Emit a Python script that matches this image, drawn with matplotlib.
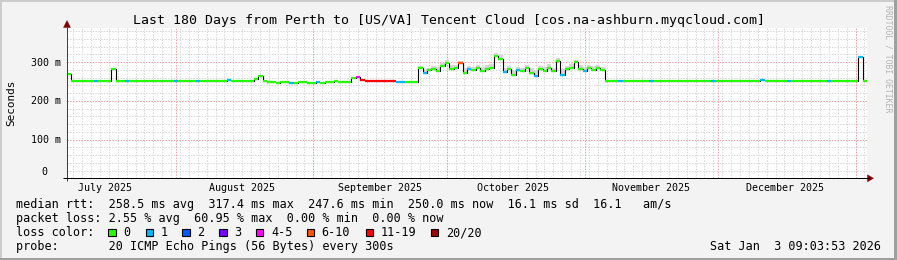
import matplotlib
matplotlib.use("Agg")
import matplotlib.pyplot as plt
from matplotlib.collections import LineCollection
from matplotlib.patches import Rectangle, Polygon
from matplotlib.lines import Line2D
import numpy as np

# ---------------- data ----------------
title = "Last 180 Days from Perth to [US/VA] Tencent Cloud [cos.na-ashburn.myqcloud.com]"

# daily median rtt (ms), day 0 = start of the 180-day window
median_ms = [
    268, 250, 250, 250, 250, 250, 250, 250, 250, 250,
    281, 250, 250, 250, 250, 250, 250, 250, 252, 250,
    250, 250, 250, 250, 250, 250, 250, 250, 250, 250,
    250, 250, 250, 250, 250, 250, 254, 250, 250, 250,
    250, 250, 256, 264, 252, 248, 248, 247, 248, 248,
    247, 247, 248, 248, 247, 247, 248, 247, 248, 248,
    251, 249, 249, 249, 258, 261, 254, 251, 251, 250,
    250, 250, 250, 250, 248, 248, 248, 248, 248, 284,
    272, 279, 283, 277, 290, 298, 282, 286, 297, 272,
    281, 279, 285, 276, 282, 284, 315, 307, 274, 281,
    266, 280, 277, 284, 273, 265, 282, 278, 286, 276,
    304, 267, 281, 285, 300, 283, 278, 285, 280, 284,
    279, 250, 250, 250, 250, 250, 250, 250, 250, 250,
    250, 250, 250, 250, 250, 250, 250, 250, 250, 250,
    250, 250, 250, 250, 250, 250, 250, 250, 250, 250,
    250, 252, 250, 250, 250, 250, 253, 250, 250, 250,
    250, 250, 250, 250, 250, 250, 250, 250, 250, 250,
    250, 250, 250, 250, 250, 250, 250, 250, 314, 250,
]

# days whose loss is not 0 (index into loss legend)
loss_days = [6, 13, 24, 29, 36, 50, 56, 65, 66, 67, 68, 69, 70, 71, 72, 73,
             74, 75, 80, 88, 90, 98, 101, 105, 111, 116, 124, 131, 145, 156,
             162, 171, 178]
loss_levels = [1, 1, 1, 1, 1, 1, 1, 4, 6, 6, 6, 6, 6, 6, 6, 6,
               1, 1, 1, 5, 1, 1, 1, 1, 1, 1, 1, 1, 1, 1,
               1, 1, 1]

# smoke (upper spread) during the noisy period
smoke_start_day = 79
smoke_top_ms = [290, 281, 286, 290, 287, 298, 305, 292, 293, 303, 285, 289,
                288, 293, 287, 292, 295, 324, 318, 286, 290, 279, 288, 286,
                292, 284, 280, 290, 287, 294, 286, 310, 282, 290, 294, 306,
                292, 287, 293, 289, 292, 288]

loss_labels = ["0", "1", "2", "3", "4-5", "6-10", "11-19", "20/20"]
loss_colors = ["#26ff00", "#00b8ff", "#0059ff", "#7e00ff", "#ff00ff",
               "#ff5500", "#ff0000", "#a10000"]

month_labels = ["July 2025", "August 2025", "September 2025", "October 2025",
                "November 2025", "December 2025"]
month_start_days = [-6.54, 24.46, 55.46, 85.46, 116.46, 146.46, 177.46]

y_major = [100, 200, 300]
y_labels = ["100 m", "200 m", "300 m"]

line1 = "median rtt:  258.5 ms avg  317.4 ms max  247.6 ms min  250.0 ms now  16.1 ms sd  16.1   am/s"
line2 = "packet loss: 2.55 % avg  60.95 % max  0.00 % min  0.00 % now"
line4 = "probe:       20 ICMP Echo Pings (56 Bytes) every 300s"
date_text = "Sat Jan  3 09:03:53 2026"

# ---------------- figure ----------------
W, H = 897, 260
MONO = "DejaVu Sans Mono"
fig = plt.figure(figsize=(W / 100, H / 100), dpi=100)
fig.patch.set_facecolor("#f3f3f3")

def fx(x):
    return x / W

def fy(y):
    return 1 - y / H

L, R, T, B = 67, 867, 28, 178.3
YMAX = 388
ax = fig.add_axes([fx(L), fy(B), (R - L) / W, (B - T) / H])
ax.set_xlim(0, 180)
ax.set_ylim(0, YMAX)
for s in ax.spines.values():
    s.set_visible(False)
ax.set_xticks([])
ax.set_yticks([])
ax.set_facecolor("white")

minor_c = "#d6d6d6"
major_c = "#f0a0a0"
dot = (0, (1.4, 1.4))
# minor grid
d = 1.42
while d < 180:
    ax.axvline(d, color=minor_c, lw=0.72, ls=dot, zorder=1)
    d += 2
for v in range(20, YMAX, 20):
    if v % 100:
        ax.axhline(v, color=minor_c, lw=0.72, ls=dot, zorder=1)
# major grid
for v in y_major:
    ax.axhline(v, color=major_c, lw=0.72, ls=dot, zorder=1.5)
for m in month_start_days:
    if 0 < m < 180:
        ax.axvline(m, color=major_c, lw=0.72, ls=dot, zorder=1.5)

# smoke
n_sm = len(smoke_top_ms)
sx = np.arange(smoke_start_day, smoke_start_day + n_sm + 1)
s_lo = list(median_ms[smoke_start_day:smoke_start_day + n_sm])
ax.fill_between(sx, s_lo + [s_lo[-1]], smoke_top_ms + [smoke_top_ms[-1]],
                step="post", color="#d6d6d6", lw=0, zorder=2)

# median: black step underneath, coloured segments on top
n = len(median_ms)
xs = np.arange(n + 1)
ax.step(xs, median_ms + [median_ms[-1]], where="post", color="black",
        lw=0.8, zorder=3)
lvl = [0] * n
for dd, lv in zip(loss_days, loss_levels):
    lvl[dd] = lv
segs = [[(i, v), (i + 1, v)] for i, v in enumerate(median_ms)]
cols = [loss_colors[l] for l in lvl]
ax.add_collection(LineCollection(segs, colors=cols, linewidths=1.6,
                                 capstyle="butt", zorder=4))

# axes lines and arrows (figure pixel coordinates)
def fline(x0, y0, x1, y1, c, lw=0.72):
    fig.add_artist(Line2D([fx(x0), fx(x1)], [fy(y0), fy(y1)], color=c, lw=lw,
                          transform=fig.transFigure, solid_capstyle="butt"))

def fpoly(pts, c):
    fig.add_artist(Polygon([(fx(a), fy(b)) for a, b in pts], closed=True,
                           facecolor=c, edgecolor=c, lw=0.3,
                           transform=fig.transFigure))

fline(L, B + 2.5, L, T - 1, "#404040")
fline(L - 4, B, R + 2, B, "black")
fpoly([(L, 20.5), (L - 3.5, 27.5), (L + 3.5, 27.5)], "#800000")
fpoly([(873.5, B), (867.5, B - 3.5), (867.5, B + 3.5)], "#800000")

# y labels
tick_fs = 7.2
fig.text(fx(47.5), fy(B - 3.6), "0", family=MONO, fontsize=tick_fs,
         ha="right", va="baseline")
for v, lab in zip(y_major, y_labels):
    ypix = B - v * (B - T) / YMAX
    fig.text(fx(60.5), fy(ypix + 3.6), lab, family=MONO, fontsize=tick_fs,
             ha="right", va="baseline")

# month labels (centred mid-month)
for m, lab in zip(month_start_days, month_labels):
    xpix = L + (m + 15) * (R - L) / 180
    fig.text(fx(xpix), fy(190.8), lab, family=MONO, fontsize=tick_fs,
             ha="center", va="baseline")

# title & side labels
fig.text(fx(448.5), fy(24.2), title, family=MONO, fontsize=9.5,
         ha="center", va="baseline")
fig.text(fx(11), fy(103), "Seconds", family=MONO, fontsize=7.9,
         rotation=90, ha="center", va="center")
fig.text(fx(887.5), fy(5), "RRDTOOL / TOBI OETIKER", family=MONO,
         fontsize=5.9, rotation=270, ha="center", va="top", color="#b4b4b4")

# legend
leg_fs = 8.5
fig.text(fx(15.5), fy(208), line1, family=MONO, fontsize=leg_fs, va="baseline")
fig.text(fx(15.5), fy(222), line2, family=MONO, fontsize=leg_fs, va="baseline")
fig.text(fx(15.5), fy(236), "loss color:", family=MONO, fontsize=leg_fs,
         va="baseline")
box_x = [108.3, 145.7, 182.3, 219.3, 256, 306.7, 365.7, 431]
for bx, lab, c in zip(box_x, loss_labels, loss_colors):
    fig.add_artist(Rectangle((fx(bx), fy(236)), 7.4 / W, 7.4 / H,
                             facecolor=c, edgecolor="black", lw=0.8,
                             transform=fig.transFigure))
    fig.text(fx(bx + 15), fy(236), lab, family=MONO, fontsize=leg_fs,
             va="baseline")
fig.text(fx(15.5), fy(250), line4, family=MONO, fontsize=leg_fs, va="baseline")
fig.text(fx(880.5), fy(250), date_text, family=MONO, fontsize=leg_fs,
         ha="right", va="baseline")

# frame
fig.add_artist(Rectangle((0, fy(2)), 1, 2 / H, facecolor="#cccccc", lw=0,
                         transform=fig.transFigure))
fig.add_artist(Rectangle((0, 0), 2 / W, 1, facecolor="#cccccc", lw=0,
                         transform=fig.transFigure))
fig.add_artist(Rectangle((fx(894), 0), 3 / W, 1, facecolor="#9f9f9f", lw=0,
                         transform=fig.transFigure))
fig.add_artist(Rectangle((0, 0), 1, 2.5 / H, facecolor="#9f9f9f", lw=0,
                         transform=fig.transFigure))

fig.savefig("out.png", dpi=100, facecolor=fig.get_facecolor())
